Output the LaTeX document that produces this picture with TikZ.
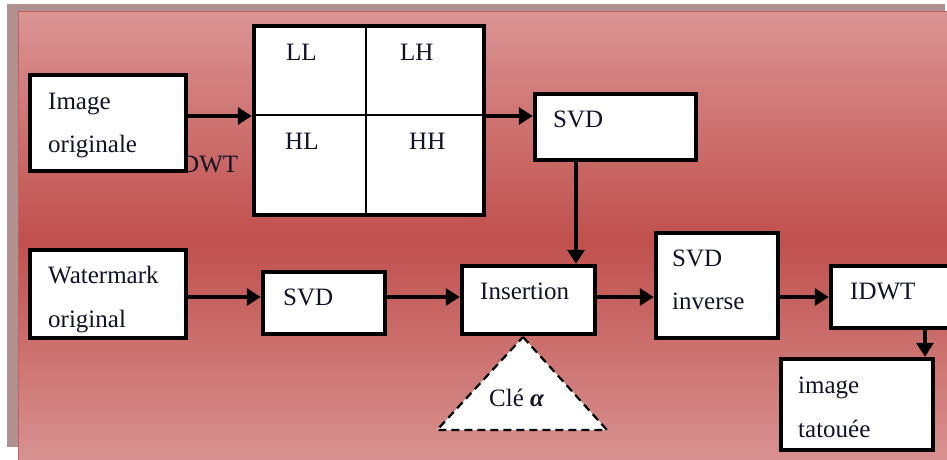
\documentclass[tikz,border=0pt]{standalone}
\usepackage{fontspec}
\setmainfont{Liberation Serif}
\usetikzlibrary{arrows.meta}

\definecolor{shadowGrey}{RGB}{176,145,145}
\definecolor{panelTop}{RGB}{219,148,148}
\definecolor{panelMid}{RGB}{192,80,77}
\definecolor{panelBot}{RGB}{217,149,148}
\definecolor{panelEdge}{RGB}{196,96,94}
\definecolor{ink}{RGB}{18,18,40}

\begin{document}
\begin{tikzpicture}[x=1pt,y=-1pt,
  box/.style={draw=black, line width=4.5pt, fill=white, inner sep=0pt},
  lbl/.style={anchor=base west, inner sep=0pt, text=ink, font=\fontsize{25}{30}\selectfont},
  arr/.style={line width=4pt, -{Triangle[length=14pt,width=17pt]}},
  keybox/.style={draw=black, fill=white, line width=2.2pt, dash pattern=on 8pt off 5pt}]

  % page frame
  \clip (0,0) rectangle (947,459);
  \fill[white] (0,0) rectangle (947,459);

  % background panel with its drop shadow
  \fill[shadowGrey] (7,4) rectangle (945,447);
  \shade[top color=panelTop, bottom color=panelBot, middle color=panelMid]
    (18,11) rectangle (970,470);
  \draw[panelEdge, line width=1pt] (970,11) -- (18,11) -- (18,470);

  % helper coordinates for connector rows and columns
  \coordinate (rowTop) at (0,116);
  \coordinate (rowMid) at (0,297);
  \coordinate (colSvd) at (576,0);
  \coordinate (colOut) at (925,0);
  \coordinate (keyApex) at (523,337);
  \coordinate (keyRight) at (607,430);
  \coordinate (keyLeft) at (437,430);

  % label partly hidden by the first box
  \node[lbl] (dwt) at (181,172) {DWT};

  % boxes
  \node[box, minimum width=156pt, minimum height=96pt]  (img)    at (108,123)   {};
  \node[box, minimum width=230pt, minimum height=189pt] (grid)   at (369,120.5) {};
  \node[box, minimum width=161pt, minimum height=66pt]  (svdA)   at (615.5,127) {};
  \node[box, minimum width=156pt, minimum height=88pt]  (wm)     at (108,294)   {};
  \node[box, minimum width=122pt, minimum height=62pt]  (svdB)   at (324,303)   {};
  \node[box, minimum width=133pt, minimum height=68pt]  (ins)    at (528.5,300) {};
  \node[box, minimum width=122pt, minimum height=105pt] (svdInv) at (717,285.5) {};
  \node[box, minimum width=127pt, minimum height=62pt]  (idwt)   at (894.5,297) {};
  \node[box, minimum width=152pt, minimum height=91pt]  (tat)    at (857,404.5) {};

  % sub-band grid
  \draw[black, line width=1.5pt] (366,26) -- (366,215);
  \draw[black, line width=1.5pt] (254,115) -- (484,115);

  % key triangle
  \draw[keybox] (keyApex) -- (keyRight) -- (keyLeft) -- cycle;

  % texts
  \node[lbl] (tImage)   at (48,109)  {Image};
  \node[lbl] (tOrigA)   at (48,152)  {originale};
  \node[lbl] (tLL)      at (286,60)  {LL};
  \node[lbl] (tLH)      at (400,60)  {LH};
  \node[lbl] (tHL)      at (285,149) {HL};
  \node[lbl] (tHH)      at (409,149) {HH};
  \node[lbl] (tSvdA)    at (553,127) {SVD};
  \node[lbl] (tWm)      at (48,283)  {Watermark};
  \node[lbl] (tOrigB)   at (48,327)  {original};
  \node[lbl] (tSvdB)    at (283,305) {SVD};
  \node[lbl] (tIns)     at (480,299) {Insertion};
  \node[lbl] (tSvdC)    at (672,266) {SVD};
  \node[lbl] (tInv)     at (672,309) {inverse};
  \node[lbl] (tIdwt)    at (850,299) {IDWT};
  \node[lbl] (tImg)     at (798,393) {image};
  \node[lbl] (tTat)     at (798,437) {tatouée};
  \node[lbl] (tKey)     at (489,406) {Clé \textbf{\textit{α}}};

  % connectors
  \draw[arr] (img.east |- rowTop) -- (grid.west |- rowTop);
  \draw[arr] (grid.east |- rowTop) -- (svdA.west |- rowTop);
  \draw[arr] (svdA.south -| colSvd) -- (ins.north -| colSvd);
  \draw[arr] (wm.east |- rowMid) -- (svdB.west |- rowMid);
  \draw[arr] (svdB.east |- rowMid) -- (ins.west |- rowMid);
  \draw[arr] (ins.east |- rowMid) -- (svdInv.west |- rowMid);
  \draw[arr] (svdInv.east |- rowMid) -- (idwt.west |- rowMid);
  \draw[arr] (idwt.south -| colOut) -- (tat.north -| colOut);
\end{tikzpicture}
\end{document}
